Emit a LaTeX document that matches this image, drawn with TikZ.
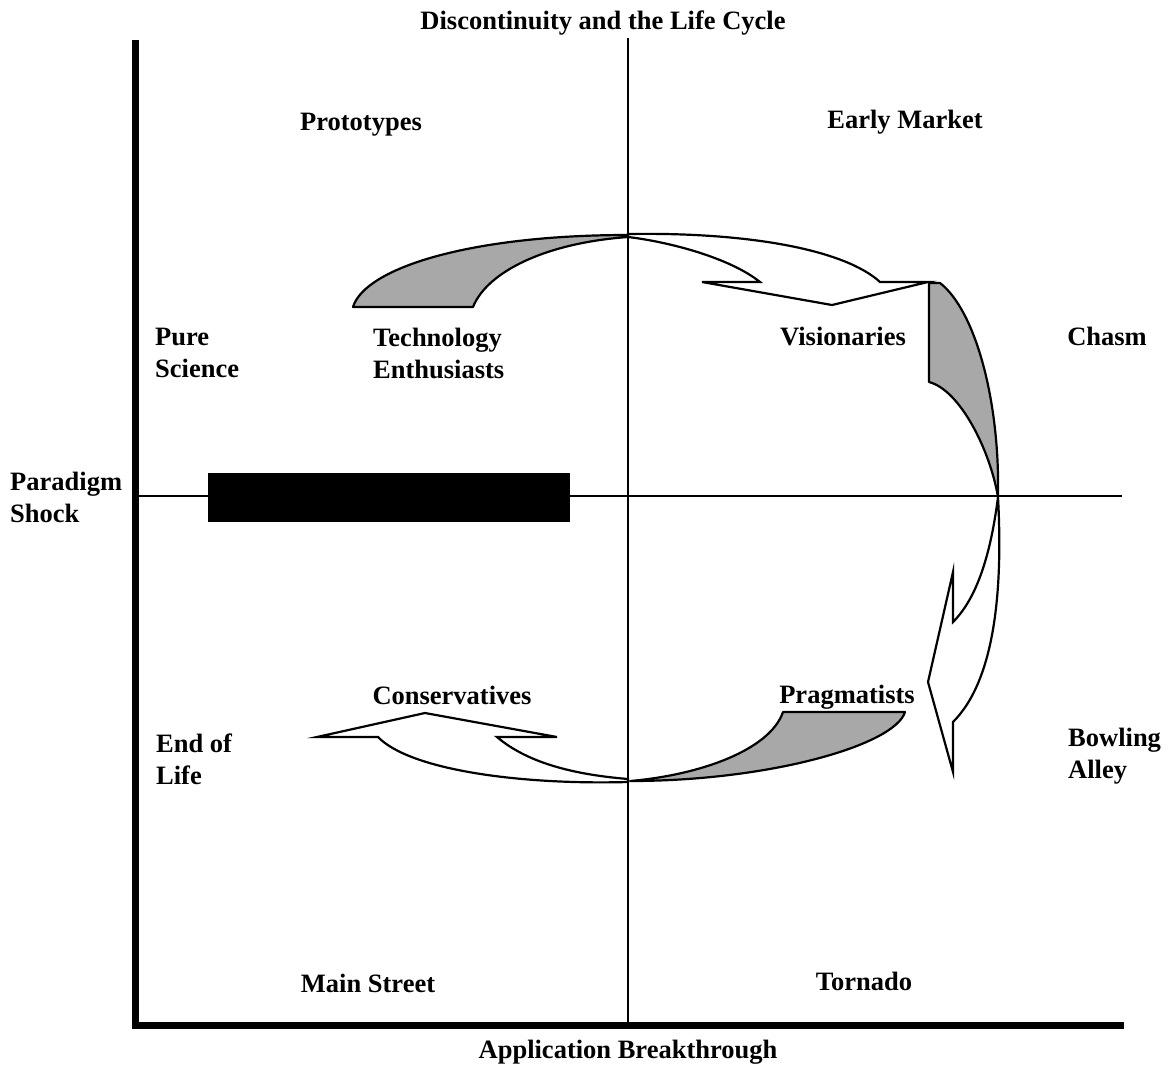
\documentclass[tikz,border=0pt]{standalone}
\usepackage{fontspec}
\setmainfont{Liberation Serif}
\usetikzlibrary{calc}
\tikzset{
    axis main/.style={line width=7pt, line cap=rect},
    axis thin/.style={line width=1.4pt},
    band back/.style={draw, line width=2.2pt, fill=gray!68, line join=round},
    band front/.style={draw, line width=2.2pt, fill=white, line join=miter},
    quad label/.style={font=\bfseries\fontsize{26.5}{32}\selectfont, inner sep=0pt},
    stage label/.style={quad label, anchor=base},
    side label/.style={quad label, anchor=west, align=left}
}

\begin{document}
\begin{tikzpicture}[x=1pt, y=-1pt]
    \useasboundingbox (0,0) rectangle (1173,1066);

    % axes
    \coordinate (origin) at (135.5,1025);
    \draw[axis main] (135.5,43) -- (origin) -- (1120,1025);
    \draw[axis thin] (628,38) -- (628,1025);
    \draw[axis thin] (138,496) -- (1122,496);

    % paradigm shock bar
    \fill (208,473) rectangle (570,522);

    % top band: enthusiasts to visionaries
    \draw[band back] (353,307) .. controls (365,268) and (470,235) .. (628,235)
        .. controls (628,236) .. (628,237)
        .. controls (545,243) and (487,272) .. (473,307) -- cycle;
    \draw[band front] (628,234) .. controls (750,232) and (845,250) .. (880,282)
        -- (928,282) -- (832,305) -- (702,282) -- (760,282)
        .. controls (730,258) and (670,242) .. (628,237) -- cycle;

    % right band: chasm to bowling alley
    \draw[band back] (940,283) .. controls (975,310) and (1000,400) .. (998,497)
        .. controls (990,450) and (960,390) .. (929,382) -- (929,283) -- cycle;
    \draw[band front] (998,497) .. controls (1003,590) and (995,680) .. (953,722)
        -- (953,772) -- (928,682) -- (953,572) -- (953,622)
        .. controls (975,600) and (990,560) .. (998,497) -- cycle;

    % bottom band: pragmatists to conservatives
    \draw[band back] (905,712) .. controls (895,745) and (770,781) .. (630,781)
        .. controls (700,775) and (770,750) .. (783,712) -- cycle;
    \draw[band front] (628,782) .. controls (520,785) and (410,770) .. (378,737)
        -- (317,737) -- (425,713) -- (557,737) -- (497,737)
        .. controls (530,765) and (580,775) .. (628,779) -- cycle;

    % labels
    \node[stage label] (title) at (603,29) {Discontinuity and the Life Cycle};
    \node[stage label] (prototypes) at (361,130) {Prototypes};
    \node[stage label] (early) at (905,128) {Early Market};
    \node[stage label] (visionaries) at (843,345) {Visionaries};
    \node[stage label] (chasm) at (1107,345) {Chasm};
    \node[stage label] (conservatives) at (452,704) {Conservatives};
    \node[stage label] (pragmatists) at (847,703) {Pragmatists};
    \node[stage label] (mainstreet) at (368,992) {Main Street};
    \node[stage label] (tornado) at (864,990) {Tornado};
    \node[stage label] (breakthrough) at (628,1058) {Application Breakthrough};

    \node[side label] (science) at (155,353) {Pure\\Science};
    \node[side label] (enthusiasts) at (373,353) {Technology\\Enthusiasts};
    \node[side label] (shock) at (10,497) {Paradigm\\Shock};
    \node[side label] (endlife) at (156,759) {End of\\Life};
    \node[side label] (bowling) at (1068,756) {Bowling\\Alley};
\end{tikzpicture}
\end{document}
